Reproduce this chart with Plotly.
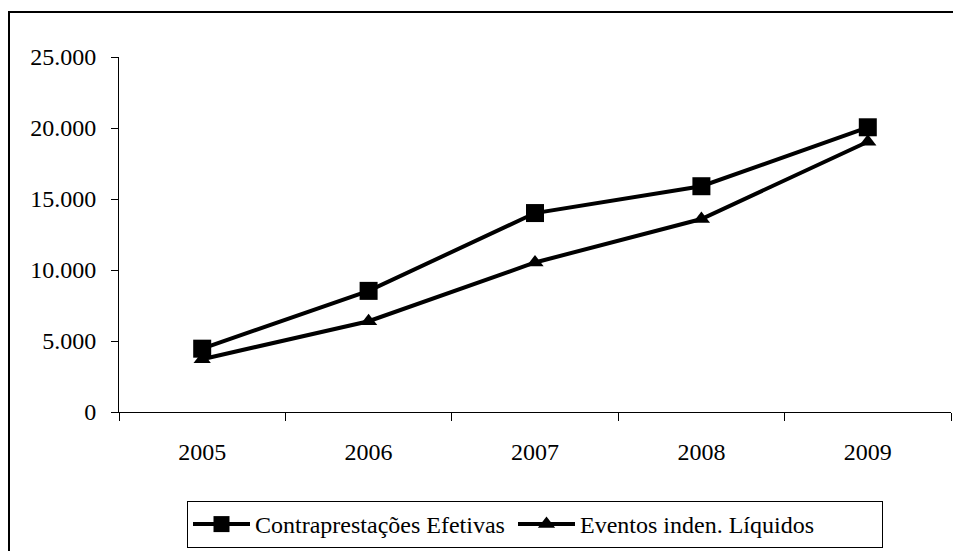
import plotly.graph_objects as go

anos = ["2005", "2006", "2007", "2008", "2009"]
contraprestacoes = [4460, 8530, 14010, 15900, 20050]
eventos = [3720, 6390, 10530, 13590, 19030]
y_ticks = [0, 5000, 10000, 15000, 20000, 25000]
y_tick_labels = ["0", "5.000", "10.000", "15.000", "20.000", "25.000"]

W, H = 953, 551
L, R, T, B = 119, 2, 57, 139
pw, ph = W - L - R, H - T - B

def px(x):
    return (x - L) / pw

def py(y):
    return (H - B - y) / ph

font = dict(family="'Liberation Serif', 'Times New Roman', Times, serif", size=24, color="black")

fig = go.Figure()
fig.add_trace(go.Scatter(
    x=anos, y=contraprestacoes, name="Contraprestações Efetivas",
    mode="lines+markers",
    line=dict(color="black", width=4),
    marker=dict(symbol="square", size=18, color="black"),
    legendwidth=253,
))
fig.add_trace(go.Scatter(
    x=anos, y=eventos, name="Eventos inden. Líquidos",
    mode="lines+markers",
    line=dict(color="black", width=4),
    marker=dict(symbol="triangle-up", size=15, color="black"),
    legendwidth=297,
))

# outer chart frame (runs past the right and bottom edges)
fig.add_shape(type="rect", xref="paper", yref="paper",
              x0=px(9), x1=px(W + 20), y0=py(H + 20), y1=py(12),
              line=dict(color="black", width=2), fillcolor="rgba(0,0,0,0)",
              layer="below")

fig.update_layout(
    width=W, height=H,
    margin=dict(l=L, r=R, t=T, b=B),
    paper_bgcolor="white", plot_bgcolor="white",
    font=font,
    showlegend=True,
    legend=dict(
        orientation="h", x=px(187), xanchor="left", y=py(501), yanchor="top",
        bordercolor="black", borderwidth=1, bgcolor="white",
        font=font, itemwidth=57, tracegroupgap=0,
    ),
    xaxis=dict(
        type="category", range=[-0.5, 4.5],
        showline=True, linecolor="black", linewidth=1,
        ticks="outside", tickson="boundaries", ticklen=8, tickcolor="black",
        showgrid=False, zeroline=False, ticklabelstandoff=18,
        tickfont=font,
    ),
    yaxis=dict(
        range=[0, 25000], tickvals=y_ticks, ticktext=y_tick_labels,
        showline=True, linecolor="black", linewidth=1,
        ticks="outside", ticklen=7, tickcolor="black",
        showgrid=False, zeroline=False, ticklabelstandoff=10,
        tickfont=font,
    ),
)

fig.write_html("out.html")
